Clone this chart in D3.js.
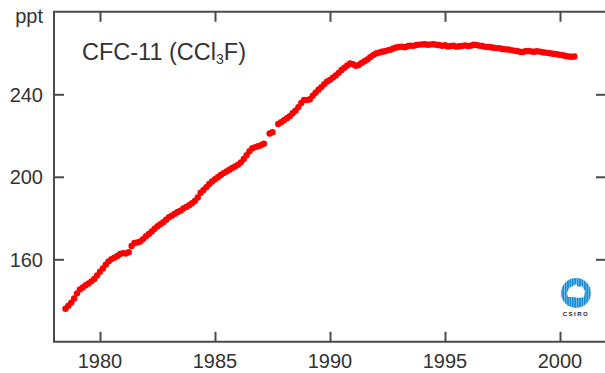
<!DOCTYPE html>
<html>
<head>
<meta charset="utf-8">
<script src="https://cdn.jsdelivr.net/npm/d3@7"></script>
<style>
  html, body { margin: 0; padding: 0; background: #fff; }
  svg { display: block; font-family: "Liberation Sans", Arial, sans-serif; }
</style>
</head>
<body>
<svg id="chart" width="605" height="373"></svg>
<script>
// CFC-11 monthly-ish readings, one value every 1/8 year from mid 1978
const firstYear = 1978.5;
const stepYear = 0.125;
const ppt = [
  136.0, 137.5, 139.0, 141.0,                                   // 1978
  143.5, 145.4, 146.3, 147.4, 148.3, 149.3, 150.5, 152.2,       // 1979
  154.0, 155.6, 157.4, 159.0, 160.1, 160.8, 161.6, 162.6,       // 1980
  163.0, 162.8, 163.4, 166.5, 167.9, 168.2, 168.6, 169.8,       // 1981
  171.2, 172.3, 173.5, 174.8, 176.0, 177.0, 178.0, 179.2,       // 1982
  180.4, 181.1, 182.1, 182.9, 183.6, 184.6, 185.4, 186.2,       // 1983
  187.2, 188.3, 190.0, 192.3, 193.6, 195.0, 196.5, 197.7,       // 1984
  198.8, 199.8, 200.9, 201.8, 202.6, 203.4, 204.3, 205.0,       // 1985
  205.9, 207.0, 208.6, 210.5, 212.4, 213.9, 214.4, 214.8,       // 1986
  215.3, 216.0, null, 221.0, 221.6, null, 225.6, 226.5,         // 1987
  227.4, 228.4, 229.4, 230.8, 232.0, 233.8, 235.8, 237.3,       // 1988
  237.2, 237.6, 239.3, 240.8, 242.2, 243.5, 244.9, 246.2,       // 1989
  247.0, 248.1, 249.1, 250.4, 251.8, 252.9, 254.0, 255.0,       // 1990
  254.6, 253.8, 254.2, 255.2, 256.0, 256.9, 258.0, 259.0,       // 1991
  259.8, 260.2, 260.6, 260.9, 261.3, 261.6, 262.2, 262.7,       // 1992
  262.9, 263.1, 262.8, 263.3, 263.6, 263.5, 263.9, 264.1,       // 1993
  264.2, 264.3, 264.0, 264.2, 264.3, 264.0, 263.9, 263.5,       // 1994
  263.8, 263.2, 263.4, 263.6, 263.1, 263.3, 263.5, 263.7,       // 1995
  263.4, 263.6, 264.0, 263.9, 263.6, 263.4, 263.0, 262.9,       // 1996
  262.8, 262.6, 262.4, 262.3, 262.0, 261.8, 261.7, 261.4,       // 1997
  261.2, 261.0, 260.6, 260.5, 260.9, 261.0, 260.8, 260.6,       // 1998
  260.9, 260.7, 260.4, 260.2, 260.0, 259.8, 259.6, 259.4,       // 1999
  259.1, 258.9, 258.6, 258.3, 258.2, 258.3                      // 2000
];
const xTicks = [1980, 1985, 1990, 1995, 2000];
const yTicks = [160, 200, 240];

const svg = d3.select("#chart");
const axisColor = "#4a4a4a";
const textColor = "#333";

const x = d3.scaleLinear().domain([1978, 2002]).range([54, 606]);
const y = d3.scaleLinear().domain([120, 280]).range([341.8, 11.8]);

const points = ppt
  .map((v, i) => ({ year: firstYear + i * stepYear, value: v }))
  .filter((d) => d.value !== null);

// inward ticks on all four sides
const tickLen = 10;
const axisBottomG = svg.append("g").attr("transform", `translate(0,${y(120)})`)
  .call(d3.axisBottom(x).tickValues(xTicks).tickSize(-tickLen).tickFormat(""));
const axisTopG = svg.append("g").attr("transform", `translate(0,${y(280)})`)
  .call(d3.axisTop(x).tickValues(xTicks).tickSize(-tickLen).tickFormat(""));
const axisLeftG = svg.append("g").attr("transform", `translate(${x(1978)},0)`)
  .call(d3.axisLeft(y).tickValues(yTicks).tickSize(-tickLen).tickFormat(""));
const axisRightG = svg.append("g").attr("transform", `translate(${x(2002)},0)`)
  .call(d3.axisRight(y).tickValues(yTicks).tickSize(-tickLen).tickFormat(""));

[axisBottomG, axisTopG, axisLeftG, axisRightG].forEach((g) => {
  g.select(".domain").remove();
  g.selectAll(".tick line").attr("stroke", axisColor).attr("stroke-width", 2);
});

// frame: top, left, bottom only (right edge is outside the picture)
svg.append("path")
  .attr("d", d3.line()([
    [x(2002), y(280)], [x(1978), y(280)], [x(1978), y(120)], [x(2002), y(120)]
  ]))
  .attr("fill", "none").attr("stroke", axisColor).attr("stroke-width", 2);

// tick labels
svg.append("g").selectAll("text").data(xTicks).enter().append("text")
  .attr("x", (d) => x(d)).attr("y", 368)
  .attr("text-anchor", "middle").attr("fill", textColor)
  .style("font-size", "20px").text((d) => d);

svg.append("g").selectAll("text").data(yTicks).enter().append("text")
  .attr("x", 43).attr("y", (d) => y(d)).attr("dy", "0.36em")
  .attr("text-anchor", "end").attr("fill", textColor)
  .style("font-size", "20px").text((d) => d);

svg.append("text").attr("x", 43).attr("y", 23)
  .attr("text-anchor", "end").attr("fill", textColor)
  .style("font-size", "20px").text("ppt");

// title with subscript
const title = svg.append("text").attr("x", 82).attr("y", 60)
  .attr("fill", textColor).style("font-size", "23.5px");
title.append("tspan").text("CFC-11 (CCl");
title.append("tspan").attr("dy", 4).style("font-size", "14px").text("3");
title.append("tspan").attr("dy", -4).text("F)");

// data dots
svg.append("g").selectAll("circle").data(points).enter().append("circle")
  .attr("cx", (d) => x(d.year)).attr("cy", (d) => y(d.value))
  .attr("r", 3.2).attr("fill", "#ff0000");

// CSIRO logo
const pat = svg.append("defs").append("pattern")
  .attr("id", "stripes").attr("patternUnits", "userSpaceOnUse")
  .attr("width", 2.4).attr("height", 4);
pat.append("rect").attr("width", 2.4).attr("height", 4).attr("fill", "#1a8ad4");
pat.append("rect").attr("width", 0.8).attr("height", 4).attr("fill", "#7cc4ee");
const logo = svg.append("g").attr("transform", "translate(576,293)");
logo.append("circle").attr("r", 15).attr("fill", "url(#stripes)");
logo.append("path")
  .attr("d", "M-9,0 L-7,-5 L-3,-7 L0,-9 L2,-6 L6,-7 L9,-2 L8,4 L3,5 L-3,4 L-8,4 Z")
  .attr("fill", "#fff");
logo.append("text").attr("y", 23).attr("text-anchor", "middle")
  .attr("fill", "#222").style("font-size", "6px").style("font-weight", "bold")
  .style("letter-spacing", "1.5px").text("CSIRO");
</script>
</body>
</html>
